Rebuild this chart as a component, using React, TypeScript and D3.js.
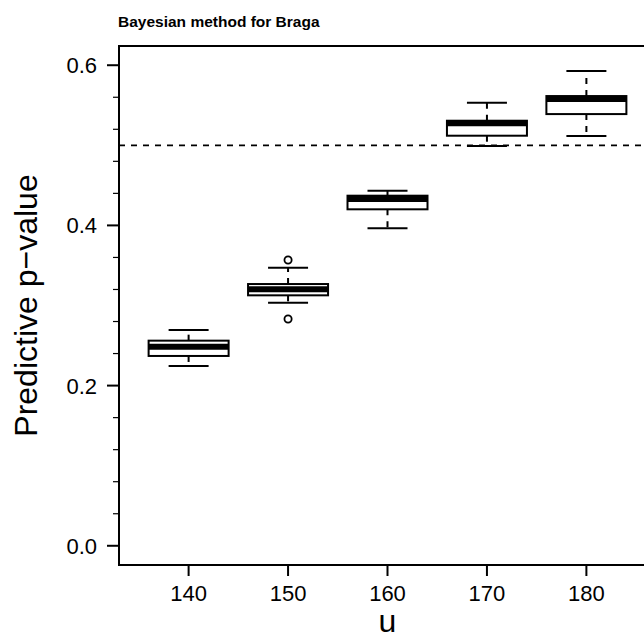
import React from "react";
import * as d3 from "d3";

// Threshold values u and the predictive p-value distribution at each
const thresholds = [140, 150, 160, 170, 180];
const lowerWhisker = [0.2245, 0.3035, 0.3964, 0.4991, 0.5116];
const quartile1 = [0.237, 0.3127, 0.4201, 0.512, 0.539];
const medians = [0.2486, 0.3202, 0.433, 0.5275, 0.5578];
const quartile3 = [0.2561, 0.3268, 0.4371, 0.5307, 0.5615];
const upperWhisker = [0.2694, 0.3472, 0.4433, 0.5532, 0.5928];
const outlierU = [150, 150];
const outlierP = [0.3568, 0.2831];

const yTicks = [0.0, 0.2, 0.4, 0.6];
const yMinorTicks = [0.04, 0.08, 0.12, 0.16, 0.24, 0.28, 0.32, 0.36, 0.44, 0.48, 0.52, 0.56];
const referenceLevel = 0.5;

const W = 644;
const H = 642;
const plot = { left: 119, right: 656, top: 46, bottom: 565 };

export default function App() {
  const x = d3.scaleLinear().domain([133, 187]).range([plot.left, plot.right]);
  const y = d3.scaleLinear().domain([-0.024, 0.624]).range([plot.bottom, plot.top]);

  const boxHalf = 40;
  const capHalf = 20;
  const font = "'Liberation Sans', Arial, Helvetica, sans-serif";

  return (
    <svg
      width={W}
      height={H}
      style={{ position: "absolute", left: 0, top: 0, background: "#fff" }}
      fontFamily={font}
    >
      <rect x={0} y={0} width={W} height={H} fill="#fff" />
      <text x={118} y={27} fontSize={15.5} fontWeight="bold" fill="#000">
        Bayesian method for Braga
      </text>

      {/* reference line */}
      <line
        x1={plot.left}
        x2={plot.right}
        y1={y(referenceLevel)}
        y2={y(referenceLevel)}
        stroke="#000"
        strokeWidth={1.8}
        strokeDasharray="6,6"
      />

      {thresholds.map((u, i) => {
        const cx = x(u);
        return (
          <g key={u} stroke="#000" fill="none">
            <line x1={cx} x2={cx} y1={y(quartile3[i])} y2={y(upperWhisker[i])} strokeWidth={2} strokeDasharray="6,6" />
            <line x1={cx} x2={cx} y1={y(quartile1[i])} y2={y(lowerWhisker[i])} strokeWidth={2} strokeDasharray="6,6" />
            <line x1={cx - capHalf} x2={cx + capHalf} y1={y(upperWhisker[i])} y2={y(upperWhisker[i])} strokeWidth={2} />
            <line x1={cx - capHalf} x2={cx + capHalf} y1={y(lowerWhisker[i])} y2={y(lowerWhisker[i])} strokeWidth={2} />
            <rect
              x={cx - boxHalf}
              y={y(quartile3[i])}
              width={boxHalf * 2}
              height={y(quartile1[i]) - y(quartile3[i])}
              fill="#fff"
              strokeWidth={2}
            />
            <line x1={cx - boxHalf} x2={cx + boxHalf} y1={y(medians[i])} y2={y(medians[i])} strokeWidth={6} />
          </g>
        );
      })}

      {outlierU.map((u, i) => (
        <circle key={i} cx={x(u)} cy={y(outlierP[i])} r={3.6} fill="none" stroke="#000" strokeWidth={1.8} />
      ))}

      {/* frame */}
      <rect
        x={plot.left}
        y={plot.top}
        width={plot.right - plot.left}
        height={plot.bottom - plot.top}
        fill="none"
        stroke="#000"
        strokeWidth={2}
      />

      {/* y axis */}
      {yTicks.map((t) => (
        <g key={t}>
          <line x1={plot.left - 12} x2={plot.left} y1={y(t)} y2={y(t)} stroke="#000" strokeWidth={2} />
          <text x={97} y={y(t)} dy="0.36em" textAnchor="end" fontSize={22} fill="#000">
            {t.toFixed(1)}
          </text>
        </g>
      ))}
      {yMinorTicks.map((t) => (
        <line key={t} x1={plot.left - 6} x2={plot.left} y1={y(t)} y2={y(t)} stroke="#000" strokeWidth={1.2} />
      ))}

      {/* x axis */}
      {thresholds.map((u) => (
        <g key={u}>
          <line x1={x(u)} x2={x(u)} y1={plot.bottom} y2={plot.bottom + 11} stroke="#000" strokeWidth={2} />
          <text x={x(u)} y={601} textAnchor="middle" fontSize={22} fill="#000">
            {u}
          </text>
        </g>
      ))}

      <text x={(plot.left + plot.right) / 2} y={632} textAnchor="middle" fontSize={32} fill="#000">
        u
      </text>
      <text
        transform={`translate(37, ${(plot.top + plot.bottom) / 2}) rotate(-90)`}
        textAnchor="middle"
        fontSize={32}
        fill="#000"
      >
        Predictive p−value
      </text>
    </svg>
  );
}
